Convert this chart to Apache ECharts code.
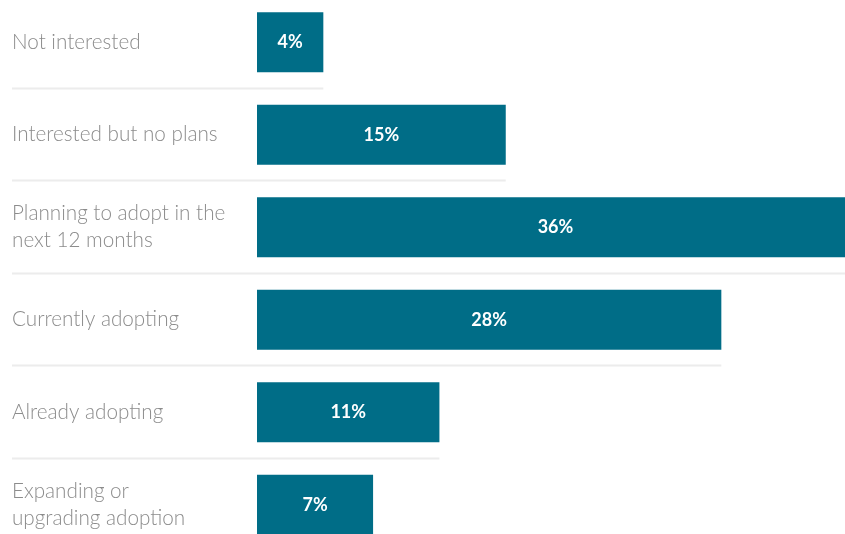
<!DOCTYPE html>
<html>
<head>
<meta charset="utf-8">
<script src="https://cdn.jsdelivr.net/npm/echarts@6/dist/echarts.min.js"></script>
<style>
  html, body { margin: 0; padding: 0; background: #fff; overflow: hidden; width: 845px; height: 534px; }
  /* the widest bar and the last row run past the visible frame */
  #chart { position: absolute; left: 0; top: -4px; width: 854px; height: 555px; }
</style>
</head>
<body>
<div id="chart"></div>
<script>
// Adoption stages and share of respondents (%)
const categories = [
  'Not interested',
  'Interested but no plans',
  'Planning to adopt in the\nnext 12 months',
  'Currently adopting',
  'Already adopting',
  'Expanding or\nupgrading adoption'
];
const shares = [4, 15, 36, 28, 11, 7];

const chart = echarts.init(document.getElementById('chart'));

chart.setOption({
  animation: false,
  grid: { left: 257, right: 0, top: 0, bottom: 0 },
  xAxis: {
    type: 'value',
    min: 0,
    max: 36,
    show: false
  },
  yAxis: {
    type: 'category',
    data: categories,
    inverse: true,
    axisLine: { show: false },
    axisTick: { show: false },
    splitLine: { show: false },
    axisLabel: {
      align: 'left',
      margin: 245,
      color: '#8c8c8c',
      fontFamily: 'Lato',
      fontWeight: 300,
      fontSize: 20.7,
      lineHeight: 27,
      padding: [2, 0, 0, 0]
    }
  },
  series: [
    {
      // thin divider under each row, running from the label to the end of its bar
      type: 'custom',
      silent: true,
      z: 1,
      data: shares.map((v, i) => [v, i]),
      renderItem: function (params, api) {
        const end = api.coord([api.value(0), api.value(1)]);
        const band = api.size([0, 1])[1];
        const y = Math.round(end[1] + band / 2) - 0.5;
        return {
          type: 'line',
          shape: { x1: 12, y1: y, x2: end[0], y2: y },
          style: { stroke: '#ececec', lineWidth: 2 }
        };
      }
    },
    {
      type: 'bar',
      data: shares,
      barWidth: 60,
      z: 2,
      itemStyle: { color: '#006d87' },
      label: {
        show: true,
        position: 'inside',
        formatter: '{c}%',
        color: '#ffffff',
        fontFamily: 'Lato',
        fontWeight: 'bold',
        fontSize: 18
      }
    }
  ]
});
</script>
</body>
</html>
